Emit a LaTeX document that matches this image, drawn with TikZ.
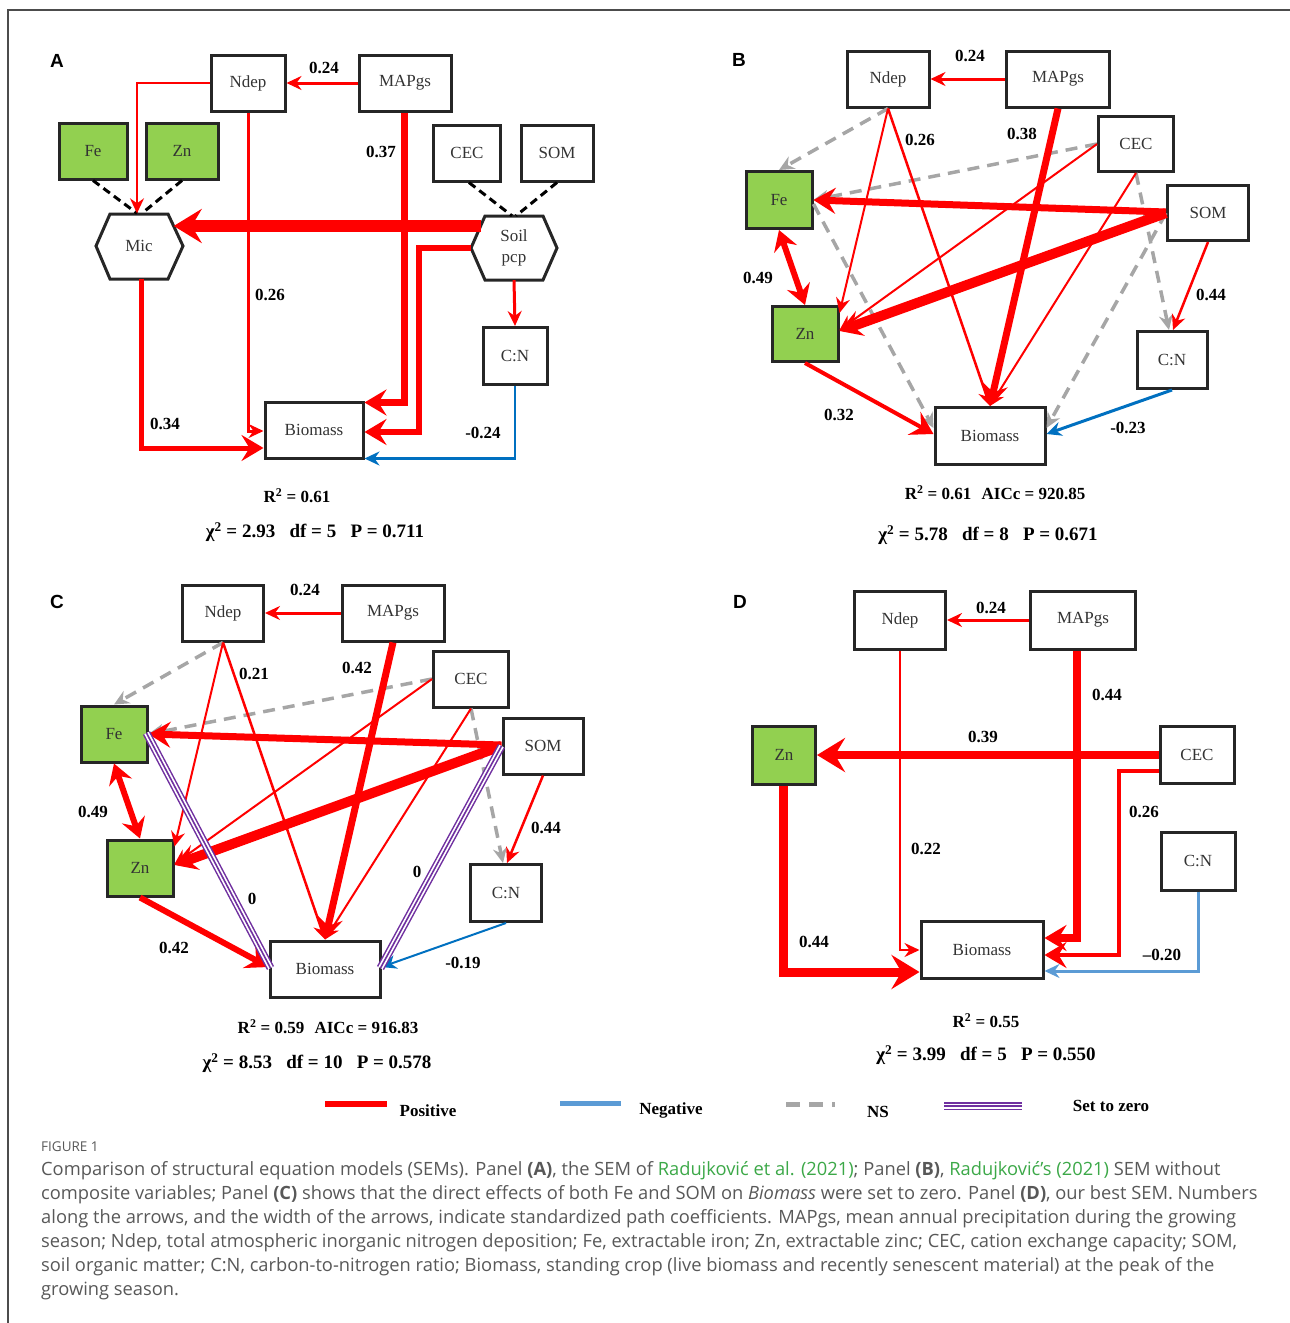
\documentclass[tikz,border=0pt]{standalone}
\usepackage{fontspec}
\setmainfont{Liberation Serif}
\newfontfamily\panelfont{Liberation Sans}
\newfontfamily\capfont{Open Sans}
\usetikzlibrary{arrows.meta}
\usetikzlibrary{calc}

\definecolor{posred}{RGB}{255,0,0}
\definecolor{negblue}{RGB}{0,112,192}
\definecolor{negblueD}{RGB}{91,155,213}
\definecolor{nsgray}{RGB}{166,166,166}
\definecolor{zeropurple}{RGB}{112,48,160}
\definecolor{boxgreen}{RGB}{146,208,80}
\definecolor{capgray}{RGB}{88,88,88}
\definecolor{linkgreen}{RGB}{60,168,72}

\tikzset{
  var/.style={draw=black!85, line width=3pt, inner sep=0pt, minimum height=56pt,
    font=\fontsize{17}{20}\selectfont, text=black!80},
  soil/.style={var, fill=boxgreen},
  hexline/.style={draw=black!85, line width=3pt, line join=miter},
  coef/.style={font=\fontsize{17}{20}\selectfont\bfseries, inner sep=1pt},
  fitstat/.style={font=\fontsize{19}{22}\selectfont\bfseries, inner sep=1pt},
  panel/.style={font=\panelfont\fontsize{19}{22}\selectfont\bfseries, inner sep=0pt},
  capline/.style={font=\capfont\fontsize{18.3}{22}\selectfont, text=capgray, inner sep=0pt, anchor=base west},
  tipS/.style={-{Stealth[length=15pt,width=14pt,inset=5pt]}},
  tipL/.style={-{Stealth[length=22pt,width=26pt,inset=8pt]}},
  tipXL/.style={-{Stealth[length=28pt,width=34pt,inset=10pt]}},
  tipBoth/.style={{Stealth[length=20pt,width=24pt,inset=7pt]}-{Stealth[length=20pt,width=24pt,inset=7pt]}},
  posarr/.style={draw=posred, line width=#1},
  negarr/.style={draw=negblue, line width=#1},
  nsarr/.style={draw=nsgray, line width=3.5pt, dash pattern=on 12pt off 8pt},
  zeroline/.style={preaction={draw=zeropurple, line width=8pt}, draw=white, line width=5pt,
    postaction={draw=zeropurple, line width=1.6pt}},
  linkdash/.style={draw=black, line width=3pt, dash pattern=on 8pt off 5pt}
}

\begin{document}
\begin{tikzpicture}[x=1pt, y=-1pt]
\useasboundingbox (0,0) rectangle (1290,1323);
\draw[black!70, line width=1.5pt] (8,1323) -- (8,10) -- (1290,10);

% ---------------- panel A
\node[panel] (labA) at (57,61) {A};
\node[var, minimum width=74pt] (ndepA) at (248,83) {Ndep};
\node[var, minimum width=92pt] (mapA) at (405,83) {MAPgs};
\node[soil, minimum width=68pt] (feA) at (93,151) {Fe};
\node[soil, minimum width=72pt] (znA) at (182,151) {Zn};
\node[var, minimum width=67pt] (cecA) at (467,153) {CEC};
\node[var, minimum width=72pt] (somA) at (557,153) {SOM};
\node[var, minimum width=64pt, minimum height=57pt] (cnA) at (515,356) {C:N};
\node[var, minimum width=98pt] (bioA) at (314,430) {Biomass};
\draw[hexline] (96,246) -- (110,214) -- (168,214) -- (183,246) -- (168,279) -- (110,279) -- cycle;
\draw[hexline] (471,248) -- (485,216) -- (543,216) -- (557,248) -- (543,280) -- (485,280) -- cycle;
\node[inner sep=0pt, minimum width=87pt, minimum height=65pt, font=\fontsize{17}{20}\selectfont, text=black!80] (micA) at (139,246) {Mic};
\node[inner sep=0pt, minimum width=86pt, minimum height=64pt, align=center, font=\fontsize{17}{21}\selectfont, text=black!80] (soilA) at (514,248) {Soil\\pcp};

\draw[linkdash] (feA.south) -- ($(micA.north)+(-2,0)$);
\draw[linkdash] (znA.south) -- ($(micA.north)+(3,0)$);
\draw[linkdash] ($(cecA.south)+(2,0)$) -- ($(soilA.north)+(-2,0)$);
\draw[linkdash] (somA.south) -- ($(soilA.north)+(2,0)$);

\draw[posarr=3pt, tipS] (mapA.west) -- (ndepA.east);
\draw[posarr=2pt, tipS] (ndepA.west) -| ($(micA.north)+(-2,0)$);
\draw[posarr=3pt, tipS] (ndepA.south) |- ($(bioA.west)+(0,1)$);
\draw[posarr=7pt, tipL] ($(mapA.south)+(-1,0)$) |- ($(bioA.north east)+(0,2)$);
\draw[posarr=12pt, tipXL] ($(soilA.west)+(10,-22)$) -- ($(micA.east)+(-9,-20)$);
\draw[posarr=6pt, tipL] (soilA.west) -- ++(-52,0) |- ($(bioA.east)+(0,2)$);
\draw[posarr=3pt, tipS] (soilA.south) -- (cnA.north);
\draw[negarr=2.5pt, tipS] (cnA.south) |- ($(bioA.south east)+(0,-1)$);
\draw[posarr=5pt, tipL] ($(micA.south)+(2,0)$) |- ($(bioA.west)+(0,18)$);

\node[coef] (cA1) at (324,68) {0.24};
\node[coef] (cA2) at (381,152) {0.37};
\node[coef] (cA3) at (270,295) {0.26};
\node[coef] (cA4) at (165,424) {0.34};
\node[coef] (cA5) at (483,433) {-0.24};
\node[coef] (rA) at (297,496) {R\textsuperscript{2} = 0.61};
\node[fitstat] (sA) at (315,532) {χ\textsuperscript{2} = 2.93\hspace{0.75em}df = 5\hspace{0.75em}P = 0.711};

% ---------------- panel B
\node[panel] (labB) at (739,60) {B};
\node[var, minimum width=82pt] (ndepB) at (888,79) {Ndep};
\node[var, minimum width=103pt] (mapB) at (1058,79) {MAPgs};
\node[var, minimum width=75pt, minimum height=55pt] (cecB) at (1136,144) {CEC};
\node[var, minimum width=81pt, minimum height=55pt] (somB) at (1208,213) {SOM};
\node[soil, minimum width=66pt, minimum height=57pt] (feB) at (779,200) {Fe};
\node[soil, minimum width=66pt, minimum height=55pt] (znB) at (805,334) {Zn};
\node[var, minimum width=70pt, minimum height=57pt] (cnB) at (1172,360) {C:N};
\node[var, minimum width=110pt, minimum height=57pt] (bioB) at (990,436) {Biomass};

\draw[nsarr, tipS] (ndepB.south) -- (feB.north);
\draw[nsarr, tipS] (cecB.west) -- (feB.east);
\draw[nsarr, tipS] (cecB.south) -- ($(cnB.north)+(-3,0)$);
\draw[nsarr, tipS] (somB.west) -- ($(bioB.east)+(0,-8)$);
\draw[nsarr, tipS] ($(feB.east)+(0,4)$) -- ($(bioB.west)+(0,-8)$);
\draw[posarr=3pt, tipS] (mapB.west) -- (ndepB.east);
\draw[posarr=2pt, tipS] (ndepB.south) -- ($(znB.north east)+(0,8)$);
\draw[posarr=2.5pt, tipS] (ndepB.south) -- (bioB.north);
\draw[posarr=7pt, tipL] (mapB.south) -- (bioB.north);
\draw[posarr=2pt, tipS] (cecB.west) -- ($(znB.east)+(0,-4)$);
\draw[posarr=2pt, tipS] (cecB.south) -- (bioB.north);
\draw[posarr=7pt, tipL] ($(somB.west)+(0,-1)$) -- (feB.east);
\draw[posarr=10pt, tipL] (somB.west) -- ($(znB.east)+(0,-3)$);
\draw[posarr=2.5pt, tipS] (somB.south) -- ($(cnB.north)+(1,0)$);
\draw[posarr=6pt, tipBoth] (feB.south) -- (znB.north);
\draw[posarr=4pt, tipL] (znB.south) -- ($(bioB.west)+(0,-2)$);
\draw[negarr=3pt, tipS] (cnB.south) -- ($(bioB.east)+(0,-2)$);

\node[coef] (cB1) at (970,56) {0.24};
\node[coef] (cB2) at (920,140) {0.26};
\node[coef] (cB3) at (1022,134) {0.38};
\node[coef] (cB4) at (758,278) {0.49};
\node[coef] (cB5) at (1211,295) {0.44};
\node[coef] (cB6) at (839,415) {0.32};
\node[coef] (cB7) at (1128,428) {-0.23};
\node[coef] (rB) at (995,493) {R\textsuperscript{2} = 0.61\hspace{0.6em}AICc = 920.85};
\node[fitstat] (sB) at (988,535) {χ\textsuperscript{2} = 5.78\hspace{0.75em}df = 8\hspace{0.75em}P = 0.671};

% ---------------- panel C
\node[panel] (labC) at (57,602) {C};
\node[var, minimum width=81pt] (ndepC) at (223,613) {Ndep};
\node[var, minimum width=102pt] (mapC) at (393,613) {MAPgs};
\node[var, minimum width=75pt] (cecC) at (471,679) {CEC};
\node[var, minimum width=80pt] (somC) at (543,746) {SOM};
\node[soil, minimum width=66pt] (feC) at (114,734) {Fe};
\node[soil, minimum width=66pt] (znC) at (140,868) {Zn};
\node[var, minimum width=71pt, minimum height=57pt] (cnC) at (506,893) {C:N};
\node[var, minimum width=110pt] (bioC) at (325,969) {Biomass};

\draw[nsarr, tipS] (ndepC.south) -- (feC.north);
\draw[nsarr, tipS] (cecC.west) -- (feC.east);
\draw[nsarr, tipS] (cecC.south) -- ($(cnC.north)+(-3,0)$);
\draw[posarr=3pt, tipS] (mapC.west) -- (ndepC.east);
\draw[posarr=2pt, tipS] (ndepC.south) -- ($(znC.north east)+(0,8)$);
\draw[posarr=2.5pt, tipS] (ndepC.south) -- (bioC.north);
\draw[posarr=7pt, tipL] (mapC.south) -- (bioC.north);
\draw[posarr=2pt, tipS] (cecC.west) -- ($(znC.east)+(0,-4)$);
\draw[posarr=2pt, tipS] (cecC.south) -- (bioC.north);
\draw[posarr=7pt, tipL] ($(somC.west)+(0,-1)$) -- (feC.east);
\draw[posarr=10pt, tipL] (somC.west) -- ($(znC.east)+(0,-3)$);
\draw[posarr=2.5pt, tipS] (somC.south) -- ($(cnC.north)+(1,0)$);
\draw[posarr=6pt, tipBoth] (feC.south) -- (znC.north);
\draw[posarr=6pt, tipL] (znC.south) -- ($(bioC.west)+(0,-2)$);
\draw[negarr=2pt, tipS] (cnC.south) -- ($(bioC.east)+(0,-2)$);
\draw[zeroline] ($(feC.east)+(-2,-1)$) -- ($(bioC.west)+(2,-1)$);
\draw[zeroline] (somC.west) -- ($(bioC.east)+(-1,-1)$);

\node[coef] (cC1) at (305,590) {0.24};
\node[coef] (cC2) at (254,674) {0.21};
\node[coef] (cC3) at (357,668) {0.42};
\node[coef] (cC4) at (93,812) {0.49};
\node[coef] (cC5) at (546,828) {0.44};
\node[coef] (cC6) at (252,899) {0};
\node[coef] (cC7) at (417,872) {0};
\node[coef] (cC8) at (174,948) {0.42};
\node[coef] (cC9) at (463,963) {-0.19};
\node[coef] (rC) at (328,1027) {R\textsuperscript{2} = 0.59\hspace{0.6em}AICc = 916.83};
\node[fitstat] (sC) at (317,1063) {χ\textsuperscript{2} = 8.53\hspace{0.75em}df = 10\hspace{0.75em}P = 0.578};

% ---------------- panel D
\node[panel] (labD) at (740,602) {D};
\node[var, minimum width=91pt, minimum height=58pt] (ndepD) at (900,620) {Ndep};
\node[var, minimum width=105pt, minimum height=58pt] (mapD) at (1083,620) {MAPgs};
\node[soil, minimum width=63pt, minimum height=58pt] (znD) at (784,755) {Zn};
\node[var, minimum width=74pt, minimum height=57pt] (cecD) at (1197,755) {CEC};
\node[var, minimum width=74pt, minimum height=58pt] (cnD) at (1198,861) {C:N};
\node[var, minimum width=122pt, minimum height=57pt] (bioD) at (982,950) {Biomass};

\draw[posarr=3pt, tipS] (mapD.west) -- (ndepD.east);
\draw[posarr=2pt, tipS] (ndepD.south) |- (bioD.west);
\draw[posarr=8pt, tipL] ($(mapD.south)+(-6,0)$) |- ($(bioD.east)+(0,-12)$);
\draw[posarr=8pt, tipXL] (cecD.west) -- (znD.east);
\draw[posarr=4pt, tipL] ($(cecD.west)+(0,16)$) -- ++(-40,0) |- ($(bioD.east)+(0,5)$);
\draw[draw=negblueD, line width=3pt, tipS] (cnD.south) |- ($(bioD.east)+(0,21)$);
\draw[posarr=9pt, tipXL] ($(znD.south)+(-1,0)$) |- ($(bioD.west)+(0,22)$);

\node[coef] (cD1) at (991,608) {0.24};
\node[coef] (cD2) at (1107,695) {0.44};
\node[coef] (cD3) at (983,737) {0.39};
\node[coef] (cD4) at (1144,812) {0.26};
\node[coef] (cD5) at (926,849) {0.22};
\node[coef] (cD6) at (814,942) {0.44};
\node[coef] (cD7) at (1162,955) {–0.20};
\node[coef] (rD) at (986,1021) {R\textsuperscript{2} = 0.55};
\node[fitstat] (sD) at (986,1055) {χ\textsuperscript{2} = 3.99\hspace{0.75em}df = 5\hspace{0.75em}P = 0.550};

% ---------------- legend
\draw[posarr=6pt] (325,1104) -- (387,1104);
\node[coef] (legPos) at (428,1111) {Positive};
\draw[draw=negblueD, line width=5pt] (560,1103) -- (621,1103);
\node[coef] (legNeg) at (671,1110) {Negative};
\draw[nsarr, line width=5pt, dash pattern=on 14pt off 9pt] (786,1104) -- (835,1104);
\node[coef] (legNS) at (878,1112) {NS};
\draw[zeroline] (944,1106) -- (1022,1106);
\node[coef] (legZero) at (1111,1106) {Set to zero};

% ---------------- caption
\node[capline, font=\capfont\fontsize{13.5}{16}\selectfont] (fig) at (41,1151) {FIGURE 1};
\node[capline] (cap1) at (41,1175) {Comparison of structural equation models (SEMs). Panel \textbf{(A)}, the SEM of \textcolor{linkgreen}{Radujković et al. (2021)}; Panel \textbf{(B)}, \textcolor{linkgreen}{Radujković’s (2021)} SEM without};
\node[capline] (cap2) at (41,1199) {composite variables; Panel \textbf{(C)} shows that the direct effects of both Fe and SOM on \textit{Biomass} were set to zero. Panel \textbf{(D)}, our best SEM. Numbers};
\node[capline] (cap3) at (41,1223) {along the arrows, and the width of the arrows, indicate standardized path coefficients. MAPgs, mean annual precipitation during the growing};
\node[capline] (cap4) at (41,1247) {season; Ndep, total atmospheric inorganic nitrogen deposition; Fe, extractable iron; Zn, extractable zinc; CEC, cation exchange capacity; SOM,};
\node[capline] (cap5) at (41,1271) {soil organic matter; C:N, carbon-to-nitrogen ratio; Biomass, standing crop (live biomass and recently senescent material) at the peak of the};
\node[capline] (cap6) at (41,1295) {growing season.};
\end{tikzpicture}
\end{document}
